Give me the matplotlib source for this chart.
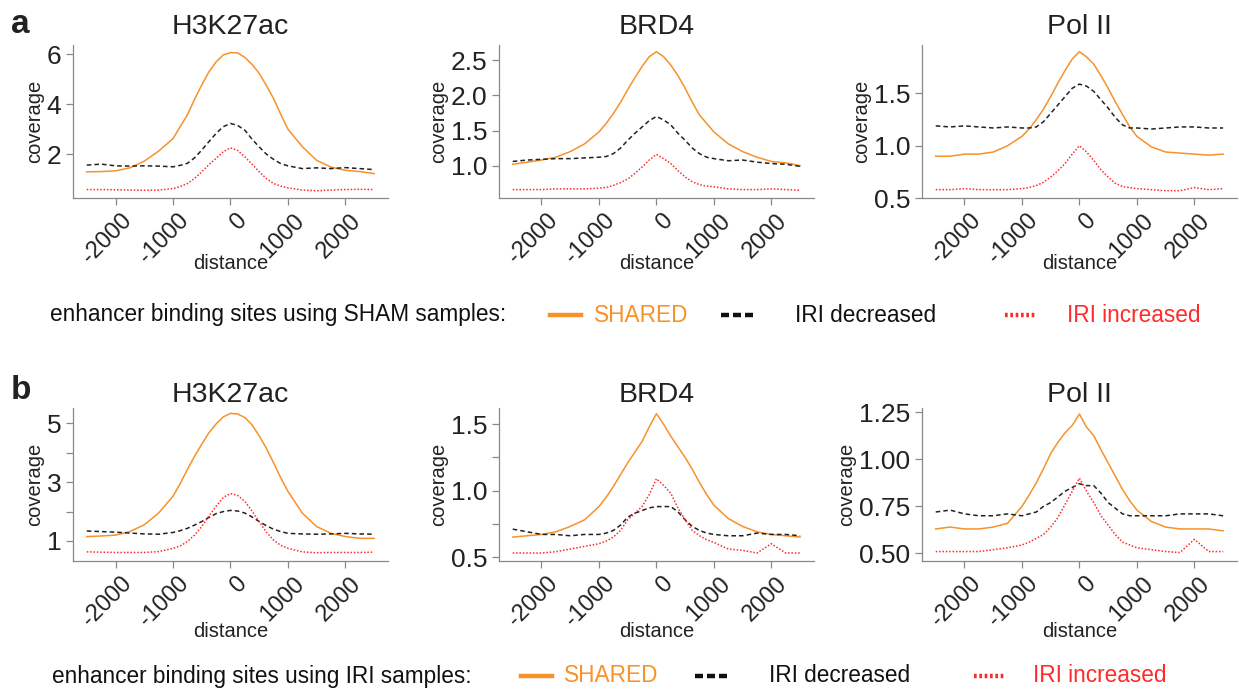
import matplotlib
matplotlib.use('agg')
import matplotlib.pyplot as plt
import matplotlib.transforms as mtransforms
from matplotlib.lines import Line2D

plt.rcParams['font.family'] = ['Liberation Sans', 'DejaVu Sans']

# distance from enhancer centre (bp); finer steps around the peak
distance = [-2500, -2250, -2000, -1750, -1500, -1250, -1000,
            -875, -750, -625, -500, -375, -250, -125, 0,
            125, 250, 375, 500, 625, 750, 875,
            1000, 1250, 1500, 1750, 2000, 2250, 2500]

# row a: SHAM samples
a_h3k27ac_shared = [1.29, 1.30, 1.33, 1.45, 1.72, 2.12, 2.62, 3.10, 3.57, 4.20, 4.77, 5.30, 5.70, 5.98, 6.07,
                    6.06, 5.88, 5.60, 5.24, 4.75, 4.23, 3.60, 3.00, 2.30, 1.75, 1.48, 1.35, 1.30, 1.22]
a_h3k27ac_dec = [1.56, 1.60, 1.53, 1.52, 1.53, 1.52, 1.49, 1.55, 1.63, 1.85, 2.16, 2.50, 2.83, 3.10, 3.23,
                 3.15, 2.96, 2.60, 2.29, 2.00, 1.79, 1.62, 1.53, 1.42, 1.45, 1.42, 1.46, 1.42, 1.38]
a_h3k27ac_inc = [0.58, 0.58, 0.57, 0.56, 0.55, 0.56, 0.62, 0.70, 0.82, 1.02, 1.29, 1.58, 1.83, 2.10, 2.25,
                 2.15, 1.89, 1.60, 1.29, 1.02, 0.82, 0.72, 0.65, 0.56, 0.53, 0.56, 0.58, 0.59, 0.58]

a_brd4_shared = [1.02, 1.05, 1.08, 1.12, 1.20, 1.31, 1.48, 1.60, 1.74, 1.90, 2.08, 2.25, 2.41, 2.55, 2.62,
                 2.55, 2.43, 2.28, 2.10, 1.90, 1.72, 1.60, 1.48, 1.31, 1.20, 1.12, 1.06, 1.04, 1.00]
a_brd4_dec = [1.06, 1.08, 1.09, 1.10, 1.10, 1.11, 1.12, 1.13, 1.17, 1.25, 1.36, 1.46, 1.55, 1.64, 1.70,
              1.65, 1.58, 1.46, 1.36, 1.25, 1.17, 1.12, 1.10, 1.07, 1.08, 1.05, 1.03, 1.02, 0.99]
a_brd4_inc = [0.66, 0.66, 0.66, 0.67, 0.67, 0.67, 0.68, 0.69, 0.72, 0.76, 0.81, 0.89, 0.98, 1.08, 1.16,
              1.10, 1.03, 0.93, 0.84, 0.77, 0.73, 0.71, 0.70, 0.67, 0.66, 0.66, 0.67, 0.66, 0.65]

a_pol2_shared = [0.90, 0.90, 0.92, 0.92, 0.94, 1.00, 1.09, 1.16, 1.25, 1.35, 1.47, 1.60, 1.72, 1.83, 1.90,
                 1.85, 1.78, 1.67, 1.55, 1.42, 1.30, 1.18, 1.09, 0.99, 0.94, 0.93, 0.92, 0.91, 0.92]
a_pol2_dec = [1.19, 1.18, 1.19, 1.18, 1.17, 1.18, 1.17, 1.17, 1.18, 1.23, 1.31, 1.39, 1.47, 1.55, 1.59,
              1.57, 1.52, 1.44, 1.36, 1.27, 1.20, 1.17, 1.17, 1.16, 1.17, 1.18, 1.18, 1.17, 1.17]
a_pol2_inc = [0.58, 0.58, 0.59, 0.58, 0.58, 0.58, 0.59, 0.60, 0.62, 0.65, 0.70, 0.76, 0.83, 0.92, 1.00,
              0.94, 0.86, 0.77, 0.70, 0.64, 0.61, 0.60, 0.59, 0.58, 0.57, 0.57, 0.60, 0.58, 0.59]

# row b: IRI samples
b_h3k27ac_shared = [1.15, 1.17, 1.20, 1.32, 1.55, 1.95, 2.52, 2.95, 3.43, 3.88, 4.29, 4.68, 4.98, 5.22, 5.34,
                    5.32, 5.20, 4.95, 4.58, 4.15, 3.66, 3.15, 2.69, 1.95, 1.49, 1.26, 1.15, 1.09, 1.09]
b_h3k27ac_dec = [1.34, 1.32, 1.30, 1.27, 1.24, 1.23, 1.29, 1.35, 1.43, 1.54, 1.66, 1.80, 1.93, 2.00, 2.04,
                 2.02, 1.95, 1.82, 1.66, 1.52, 1.40, 1.32, 1.26, 1.24, 1.23, 1.24, 1.26, 1.24, 1.23]
b_h3k27ac_inc = [0.63, 0.62, 0.61, 0.61, 0.61, 0.64, 0.75, 0.83, 0.98, 1.20, 1.49, 1.85, 2.18, 2.48, 2.61,
                 2.55, 2.35, 2.02, 1.66, 1.30, 1.03, 0.85, 0.75, 0.63, 0.60, 0.61, 0.61, 0.61, 0.62]

b_brd4_shared = [0.65, 0.66, 0.67, 0.69, 0.73, 0.78, 0.88, 0.95, 1.03, 1.12, 1.21, 1.29, 1.37, 1.48, 1.58,
                 1.50, 1.41, 1.33, 1.25, 1.16, 1.06, 0.97, 0.89, 0.79, 0.73, 0.69, 0.67, 0.66, 0.65]
b_brd4_dec = [0.71, 0.69, 0.67, 0.67, 0.66, 0.67, 0.67, 0.68, 0.70, 0.74, 0.80, 0.83, 0.85, 0.87, 0.88,
              0.88, 0.88, 0.84, 0.78, 0.73, 0.70, 0.68, 0.67, 0.66, 0.66, 0.68, 0.67, 0.67, 0.66]
b_brd4_inc = [0.53, 0.53, 0.53, 0.54, 0.56, 0.58, 0.60, 0.62, 0.65, 0.70, 0.78, 0.83, 0.88, 0.97, 1.09,
              1.04, 0.98, 0.87, 0.78, 0.70, 0.66, 0.63, 0.61, 0.56, 0.55, 0.53, 0.60, 0.53, 0.53]

b_pol2_shared = [0.63, 0.64, 0.63, 0.63, 0.64, 0.66, 0.75, 0.81, 0.875, 0.95, 1.03, 1.09, 1.14, 1.18, 1.24,
                 1.17, 1.125, 1.05, 0.98, 0.91, 0.84, 0.78, 0.73, 0.67, 0.64, 0.63, 0.63, 0.63, 0.62]
b_pol2_dec = [0.72, 0.73, 0.71, 0.70, 0.70, 0.71, 0.70, 0.71, 0.72, 0.75, 0.77, 0.80, 0.83, 0.85, 0.87,
              0.86, 0.86, 0.82, 0.77, 0.74, 0.71, 0.70, 0.70, 0.70, 0.70, 0.71, 0.71, 0.71, 0.70]
b_pol2_inc = [0.51, 0.51, 0.51, 0.51, 0.52, 0.53, 0.545, 0.56, 0.58, 0.60, 0.64, 0.69, 0.76, 0.83, 0.90,
              0.83, 0.77, 0.70, 0.65, 0.60, 0.56, 0.545, 0.53, 0.52, 0.51, 0.505, 0.575, 0.51, 0.51]

marks = ['H3K27ac', 'BRD4', 'Pol II']
rows = [
    [(a_h3k27ac_shared, a_h3k27ac_dec, a_h3k27ac_inc),
     (a_brd4_shared, a_brd4_dec, a_brd4_inc),
     (a_pol2_shared, a_pol2_dec, a_pol2_inc)],
    [(b_h3k27ac_shared, b_h3k27ac_dec, b_h3k27ac_inc),
     (b_brd4_shared, b_brd4_dec, b_brd4_inc),
     (b_pol2_shared, b_pol2_dec, b_pol2_inc)],
]
ylims = [[(0.24, 6.36), (0.54, 2.71), (0.5, 1.96)],
         [(0.32, 5.51), (0.47, 1.62), (0.46, 1.27)]]
yticks = [[[2, 4, 6], [1.0, 1.5, 2.0, 2.5], [0.5, 1.0, 1.5]],
          [[1, 2, 3, 4, 5], [0.5, 0.75, 1.0, 1.25, 1.5], [0.5, 0.75, 1.0, 1.25]]]
ylabels = [[['2', '4', '6'], ['1.0', '1.5', '2.0', '2.5'], ['0.5', '1.0', '1.5']],
           [['1', '', '3', '', '5'], ['0.5', '', '1.0', '', '1.5'],
            ['0.50', '0.75', '1.00', '1.25']]]
legend_titles = ['enhancer binding sites using SHAM samples:',
                 'enhancer binding sites using IRI samples:']

orange = '#f7922a'
red = '#ff2a2a'
ink = '#222222'

fig = plt.figure(figsize=(12.39, 6.89), dpi=100)

lefts = [0.0589, 0.4027, 0.7441]
bottoms = [0.7126, 0.1858]
W, H = 0.2542, 0.2215
title_pad = [8.5, 4.5]
xlab_y = [-0.37, -0.40]
# rotated tick labels sit a little right of their ticks
shift = mtransforms.ScaledTranslation(0.05, 0, fig.dpi_scale_trans)

for r in range(2):
    for c in range(3):
        ax = fig.add_axes([lefts[c], bottoms[r], W, H])
        shared, dec, inc = rows[r][c]
        ax.plot(distance, shared, color=orange, lw=1.1)
        ax.plot(distance, dec, color=ink, lw=1.1, ls=(0, (3, 2)))
        ax.plot(distance, inc, color=red, lw=1.1, ls=(0, (1, 1.2)))
        ax.set_xlim(-2740, 2740)
        ax.set_ylim(*ylims[r][c])
        ax.tick_params(colors='#888888', labelcolor=ink, length=5, width=0.9)
        ax.tick_params(axis='x', labelsize=17)
        ax.tick_params(axis='y', labelsize=19)
        ax.set_xticks([-2000, -1000, 0, 1000, 2000])
        ax.set_xticklabels(['-2000', '-1000', '0', '1000', '2000'],
                           rotation=45, ha='right', rotation_mode='anchor')
        for tick in ax.xaxis.get_major_ticks():
            tick.label1.set_transform(tick.label1.get_transform() + shift)
        ax.set_yticks(yticks[r][c])
        ax.set_yticklabels(ylabels[r][c])
        for s in ['top', 'right']:
            ax.spines[s].set_visible(False)
        for s in ['left', 'bottom']:
            ax.spines[s].set_color('#888888')
            ax.spines[s].set_linewidth(0.9)
        ax.set_xlabel('distance', fontsize=14.5, color=ink)
        ax.xaxis.set_label_coords(0.5, xlab_y[r])
        ax.set_ylabel('coverage', fontsize=14.5, color=ink, labelpad=2)
        ax.set_title(marks[c], fontsize=20.5, color=ink, pad=title_pad[r])

fig.text(0.009, 0.952, 'a', fontsize=24, fontweight='bold', color=ink)
fig.text(0.009, 0.421, 'b', fontsize=24, fontweight='bold', color=ink)

# legends below each row (pixel x positions of line / label starts)
leg_y = [1 - 315 / 689, 1 - 676 / 689]
leg_x = [[50, 550, 594, 721, 795, 1005, 1067],
         [52, 521, 564, 695, 769, 974, 1033]]
for r in range(2):
    y = leg_y[r]
    xs = [v / 1239 for v in leg_x[r]]
    fig.text(xs[0], y, legend_titles[r], fontsize=16.3, color='#111111', va='center')
    fig.add_artist(Line2D([xs[1], xs[1] + 0.025], [y, y], color=orange, lw=3.2))
    fig.text(xs[2], y, 'SHARED', fontsize=16.3, color=orange, va='center')
    fig.add_artist(Line2D([xs[3], xs[3] + 0.026], [y, y], color='#111111', lw=3.2,
                          ls=(0, (1.8, 0.9))))
    fig.text(xs[4], y, 'IRI decreased', fontsize=16.3, color='#111111', va='center')
    fig.add_artist(Line2D([xs[5], xs[5] + 0.025], [y, y], color=red, lw=3.2,
                          ls=(0, (0.6, 0.6))))
    fig.text(xs[6], y, 'IRI increased', fontsize=16.3, color=red, va='center')

fig.savefig('out.png', dpi=100)
